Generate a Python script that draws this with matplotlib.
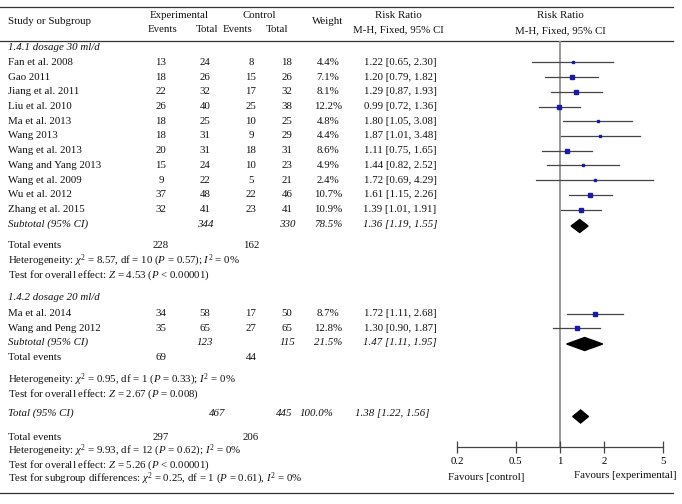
import matplotlib
matplotlib.use("Agg")
import matplotlib.pyplot as plt
from matplotlib.patches import Polygon

plt.rcParams['font.family'] = ['Liberation Serif', 'DejaVu Serif']
plt.rcParams['mathtext.fontset'] = 'custom'
plt.rcParams['mathtext.rm'] = 'Liberation Serif'
plt.rcParams['mathtext.it'] = 'Liberation Serif:italic'

# ---- data ----
g1_studies = ["Fan et al. 2008", "Gao 2011", "Jiang et al. 2011", "Liu et al. 2010",
              "Ma et al. 2013", "Wang 2013", "Wang et al. 2013", "Wang and Yang 2013",
              "Wang et al. 2009", "Wu et al. 2012", "Zhang et al. 2015"]
g1_exp_events = [13, 18, 22, 26, 18, 18, 20, 15, 9, 37, 32]
g1_exp_total = [24, 26, 32, 40, 25, 31, 31, 24, 22, 48, 41]
g1_ctl_events = [8, 15, 17, 25, 10, 9, 18, 10, 5, 22, 23]
g1_ctl_total = [18, 26, 32, 38, 25, 29, 31, 23, 21, 46, 41]
g1_weight = [4.4, 7.1, 8.1, 12.2, 4.8, 4.4, 8.6, 4.9, 2.4, 10.7, 10.9]
g1_rr = [1.22, 1.20, 1.29, 0.99, 1.80, 1.87, 1.11, 1.44, 1.72, 1.61, 1.39]
g1_lo = [0.65, 0.79, 0.87, 0.72, 1.05, 1.01, 0.75, 0.82, 0.69, 1.15, 1.01]
g1_hi = [2.30, 1.82, 1.93, 1.36, 3.08, 3.48, 1.65, 2.52, 4.29, 2.26, 1.91]

g2_studies = ["Ma et al. 2014", "Wang and Peng 2012"]
g2_exp_events = [34, 35]
g2_exp_total = [58, 65]
g2_ctl_events = [17, 27]
g2_ctl_total = [50, 65]
g2_weight = [8.7, 12.8]
g2_rr = [1.72, 1.30]
g2_lo = [1.11, 0.90]
g2_hi = [2.68, 1.87]

# subtotal / total: exp total, ctl total, weight, rr, lo, hi, exp events, ctl events
sub1 = [344, 330, 78.5, 1.36, 1.19, 1.55, 228, 162]
sub2 = [123, 115, 21.5, 1.47, 1.11, 1.95, 69, 44]
overall = [467, 445, 100.0, 1.38, 1.22, 1.56, 297, 206]

het1 = r"Heterogeneity: $\chi^2$ = 8.57, df = 10 ($P$ = 0.57); $I^2$ = 0%"
eff1 = r"Test for overall effect: $Z$ = 4.53 ($P$ < 0.00001)"
het2 = r"Heterogeneity: $\chi^2$ = 0.95, df = 1 ($P$ = 0.33); $I^2$ = 0%"
eff2 = r"Test for overall effect: $Z$ = 2.67 ($P$ = 0.008)"
het_all = r"Heterogeneity: $\chi^2$ = 9.93, df = 12 ($P$ = 0.62); $I^2$ = 0%"
eff_all = r"Test for overall effect: $Z$ = 5.26 ($P$ < 0.00001)"
sub_diff = r"Test for subgroup differences: $\chi^2$ = 0.25, df = 1 ($P$ = 0.61), $I^2$ = 0%"

ticks = [0.2, 0.5, 1, 2, 5]
tick_labels = ["0.2", "0.5", "1", "2", "5"]

# ---- layout (pixel rows) ----
W, H = 682, 504
FS = 7.8
step = 14.7
y_g1 = [62.5 + step * i for i in range(len(g1_studies))]
y_sub1 = 224.5
y_g2 = [313.5, 328.2]
y_sub2 = 342.5
y_total = 413.5
x_ee, x_et, x_ce, x_ct, x_w, x_rr = 161, 205, 251, 287, 328, 400
ax_top, ax_bot, ax_left, ax_right = 41, 447, 457, 663

fig = plt.figure(figsize=(W / 100, H / 100), dpi=100)
ax = fig.add_axes([0, 0, 1, 1])
ax.set_xlim(0, W)
ax.set_ylim(H, 0)
ax.axis('off')


def txt(x, y, s, ha='center', style='normal'):
    ax.text(x, y, s, ha=ha, va='center', fontsize=FS, style=style, color='#111')


# rules
for yy in (7, ax_top, 493):
    ax.plot([0, 673], [yy, yy], color='#333', lw=0.9)

# header
txt(8, 22, "Study or Subgroup", ha='left')
txt(179, 15, "Experimental")
txt(163, 30, "Events")
txt(207, 30, "Total")
txt(259, 15, "Control")
txt(238, 30, "Events")
txt(277, 30, "Total")
txt(328, 22, "Weight")
txt(398, 15, "Risk Ratio")
txt(398, 30, "M-H, Fixed, 95% CI")
txt(560, 16, "Risk Ratio")
txt(560, 31, "M-H, Fixed, 95% CI")


def study_rows(names, ee, et, ce, ct, w, rr, lo, hi, ys):
    for i, y in enumerate(ys):
        txt(8, y, names[i], ha='left')
        txt(x_ee, y, str(ee[i]))
        txt(x_et, y, str(et[i]))
        txt(x_ce, y, str(ce[i]))
        txt(x_ct, y, str(ct[i]))
        txt(x_w, y, f"{w[i]:.1f}%")
        txt(x_rr, y, f"{rr[i]:.2f} [{lo[i]:.2f}, {hi[i]:.2f}]")


def subtotal_row(label, vals, y, xs=(x_et, x_ct, x_w, x_rr)):
    txt(8, y, label, ha='left', style='italic')
    txt(xs[0], y, str(vals[0]), style='italic')
    txt(xs[1], y, str(vals[1]), style='italic')
    txt(xs[2], y, f"{vals[2]:.1f}%", style='italic')
    txt(xs[3], y, f"{vals[3]:.2f} [{vals[4]:.2f}, {vals[5]:.2f}]", style='italic')


txt(8, 48, "1.4.1 dosage 30 ml/d", ha='left', style='italic')
study_rows(g1_studies, g1_exp_events, g1_exp_total, g1_ctl_events, g1_ctl_total,
           g1_weight, g1_rr, g1_lo, g1_hi, y_g1)
subtotal_row("Subtotal (95% CI)", sub1, y_sub1)
txt(8, 246, "Total events", ha='left')
txt(x_ee, 246, str(sub1[6]))
txt(x_ce, 246, str(sub1[7]))
txt(8, 261, het1, ha='left')
txt(8, 275, eff1, ha='left')

txt(8, 298, "1.4.2 dosage 20 ml/d", ha='left', style='italic')
study_rows(g2_studies, g2_exp_events, g2_exp_total, g2_ctl_events, g2_ctl_total,
           g2_weight, g2_rr, g2_lo, g2_hi, y_g2)
subtotal_row("Subtotal (95% CI)", sub2, y_sub2)
txt(8, 358, "Total events", ha='left')
txt(x_ee, 358, str(sub2[6]))
txt(x_ce, 358, str(sub2[7]))
txt(8, 380, het2, ha='left')
txt(8, 394, eff2, ha='left')

subtotal_row("Total (95% CI)", overall, y_total, xs=(217, 284, 316, 392))
txt(8, 437, "Total events", ha='left')
txt(x_ee, 437, str(overall[6]))
txt(x_ce, 437, str(overall[7]))
txt(8, 451, het_all, ha='left')
txt(8, 465, eff_all, ha='left')
txt(8, 479, sub_diff, ha='left')

txt(448, 477, "Favours [control]", ha='left')
txt(676, 475, "Favours [experimental]", ha='right')

# ---- forest panel ----
fx = fig.add_axes([ax_left / W, (H - ax_bot) / H, (ax_right - ax_left) / W, (ax_bot - ax_top) / H])
fx.patch.set_alpha(0)
fx.set_xscale('log')
fx.set_xlim(0.2, 5)
fx.set_ylim(ax_bot, ax_top)
for s in ('top', 'left', 'right'):
    fx.spines[s].set_visible(False)
fx.spines['bottom'].set_color('#444')
fx.spines['bottom'].set_linewidth(0.9)
fx.set_yticks([])
fx.set_xticks(ticks)
fx.set_xticklabels(tick_labels)
fx.minorticks_off()
fx.tick_params(axis='x', direction='inout', length=8, width=0.9, color='#444',
               labelsize=FS, pad=3)
fx.axvline(1, color='#999', lw=1.4, zorder=1)

for rr, lo, hi, w, ys in ((g1_rr, g1_lo, g1_hi, g1_weight, y_g1),
                          (g2_rr, g2_lo, g2_hi, g2_weight, y_g2)):
    for i, y in enumerate(ys):
        fx.plot([lo[i], hi[i]], [y, y], color='#444', lw=0.9, zorder=2)
        fx.plot(rr[i], y, marker='s', color='#1a1aa8', ms=0.95 * w[i] ** 0.5,
                mec='#1a1aa8', zorder=3)

for vals, y in ((sub1, y_sub1 + 1.5), (sub2, y_sub2 + 1.5), (overall, y_total + 3)):
    est, lo, hi = vals[3], vals[4], vals[5]
    fx.add_patch(Polygon([(lo, y), (est, y - 6.5), (hi, y), (est, y + 6.5)],
                         closed=True, color='black', zorder=3))

fig.savefig("out.png", dpi=100)
